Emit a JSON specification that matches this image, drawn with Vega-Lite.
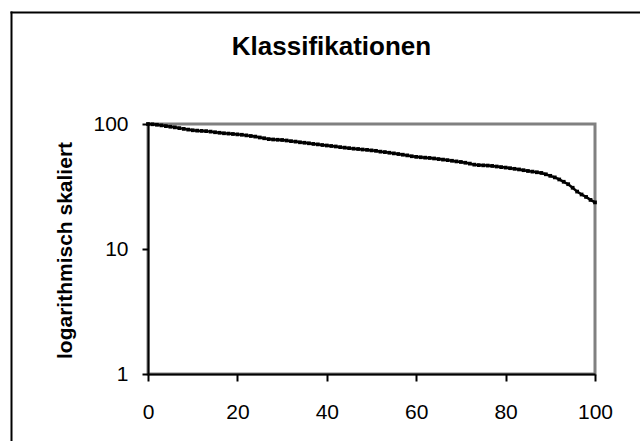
{
  "$schema": "https://vega.github.io/schema/vega-lite/v6.json",
  "autosize": "none",
  "width": 447,
  "height": 250,
  "padding": {"left": 148, "top": 124, "right": 45, "bottom": 67},
  "background": "white",
  "title": {
    "text": "Klassifikationen",
    "frame": "group",
    "anchor": "middle",
    "dx": -40,
    "offset": -78,
    "baseline": "bottom",
    "font": "Liberation Sans",
    "fontSize": 26,
    "fontWeight": "bold",
    "color": "black"
  },
  "data": {
    "values": [
      {"x": 0, "y": 100}, {"x": 1, "y": 99.5}, {"x": 2, "y": 98.6}, {"x": 3, "y": 97.5}, {"x": 4, "y": 96.2},
      {"x": 5, "y": 95.1}, {"x": 6, "y": 94.0}, {"x": 7, "y": 92.7}, {"x": 8, "y": 91.4}, {"x": 9, "y": 90.2},
      {"x": 10, "y": 89.1}, {"x": 11, "y": 88.5}, {"x": 12, "y": 88.1}, {"x": 13, "y": 87.7}, {"x": 14, "y": 86.9},
      {"x": 15, "y": 85.9}, {"x": 16, "y": 85.1}, {"x": 17, "y": 84.3}, {"x": 18, "y": 83.8}, {"x": 19, "y": 83.2},
      {"x": 20, "y": 82.6}, {"x": 21, "y": 82.0}, {"x": 22, "y": 81.1}, {"x": 23, "y": 80.2}, {"x": 24, "y": 79.3},
      {"x": 25, "y": 78.0}, {"x": 26, "y": 76.9}, {"x": 27, "y": 75.7}, {"x": 28, "y": 75.2}, {"x": 29, "y": 74.8},
      {"x": 30, "y": 74.5}, {"x": 31, "y": 73.8}, {"x": 32, "y": 72.9}, {"x": 33, "y": 72.3}, {"x": 34, "y": 71.4},
      {"x": 35, "y": 70.8}, {"x": 36, "y": 70.1}, {"x": 37, "y": 69.3}, {"x": 38, "y": 68.7}, {"x": 39, "y": 67.9},
      {"x": 40, "y": 67.3}, {"x": 41, "y": 66.7}, {"x": 42, "y": 66.1}, {"x": 43, "y": 65.3}, {"x": 44, "y": 64.7},
      {"x": 45, "y": 64.1}, {"x": 46, "y": 63.5}, {"x": 47, "y": 63.1}, {"x": 48, "y": 62.5}, {"x": 49, "y": 62.1},
      {"x": 50, "y": 61.5}, {"x": 51, "y": 61.0}, {"x": 52, "y": 60.1}, {"x": 53, "y": 59.6}, {"x": 54, "y": 58.9},
      {"x": 55, "y": 58.2}, {"x": 56, "y": 57.5}, {"x": 57, "y": 56.8}, {"x": 58, "y": 56.1}, {"x": 59, "y": 55.2},
      {"x": 60, "y": 54.6}, {"x": 61, "y": 54.2}, {"x": 62, "y": 53.8}, {"x": 63, "y": 53.5}, {"x": 64, "y": 53.0},
      {"x": 65, "y": 52.4}, {"x": 66, "y": 51.9}, {"x": 67, "y": 51.4}, {"x": 68, "y": 50.8}, {"x": 69, "y": 50.2},
      {"x": 70, "y": 49.7}, {"x": 71, "y": 49.0}, {"x": 72, "y": 48.2}, {"x": 73, "y": 47.3}, {"x": 74, "y": 46.9},
      {"x": 75, "y": 46.7}, {"x": 76, "y": 46.5}, {"x": 77, "y": 46.2}, {"x": 78, "y": 45.7}, {"x": 79, "y": 45.2},
      {"x": 80, "y": 44.8}, {"x": 81, "y": 44.3}, {"x": 82, "y": 43.8}, {"x": 83, "y": 43.3}, {"x": 84, "y": 42.7},
      {"x": 85, "y": 42.1}, {"x": 86, "y": 41.6}, {"x": 87, "y": 41.1}, {"x": 88, "y": 40.6}, {"x": 89, "y": 39.6},
      {"x": 90, "y": 38.5}, {"x": 91, "y": 37.4}, {"x": 92, "y": 36.0}, {"x": 93, "y": 34.5}, {"x": 94, "y": 33.0},
      {"x": 95, "y": 30.9}, {"x": 96, "y": 28.8}, {"x": 97, "y": 27.3}, {"x": 98, "y": 26.1}, {"x": 99, "y": 24.7},
      {"x": 100, "y": 23.6}
    ]
  },
  "layer": [
    {
      "mark": {"type": "line", "color": "black", "strokeWidth": 2.5, "clip": false},
      "encoding": {
        "x": {
          "field": "x", "type": "quantitative",
          "scale": {"domain": [0, 100], "nice": false, "zero": false},
          "axis": {
            "values": [0, 20, 40, 60, 80, 100],
            "title": null,
            "grid": false,
            "domainColor": "black", "domainWidth": 2,
            "tickColor": "black", "tickWidth": 2, "tickSize": 7,
            "labelFont": "Liberation Sans", "labelFontSize": 21, "labelColor": "black",
            "labelPadding": 20, "labelFlush": false, "labelOverlap": false
          }
        },
        "y": {
          "field": "y", "type": "quantitative",
          "scale": {"type": "log", "domain": [1, 100], "nice": false},
          "axis": {
            "values": [1, 10, 100],
            "format": "d",
            "title": "logarithmisch skaliert",
            "titleFont": "Liberation Sans", "titleFontSize": 21, "titleFontWeight": "bold", "titleColor": "black",
            "titleAngle": -90, "titleX": -83, "titleY": 126, "titleAlign": "center", "titleBaseline": "middle",
            "grid": false,
            "domainColor": "black", "domainWidth": 2,
            "tickColor": "black", "tickWidth": 2, "tickSize": 6,
            "labelFont": "Liberation Sans", "labelFontSize": 21, "labelColor": "black",
            "labelPadding": 14, "labelFlush": false, "labelOverlap": false
          }
        }
      }
    },
    {
      "mark": {"type": "point", "shape": "square", "filled": true, "color": "black", "size": 14, "opacity": 1, "clip": false},
      "encoding": {
        "x": {"field": "x", "type": "quantitative", "scale": {"domain": [0, 100], "nice": false, "zero": false}, "axis": null},
        "y": {"field": "y", "type": "quantitative", "scale": {"type": "log", "domain": [1, 100], "nice": false}, "axis": null}
      }
    },
    {
      "mark": {"type": "point", "opacity": 0},
      "encoding": {
        "x": {
          "field": "x", "type": "quantitative",
          "scale": {"domain": [0, 100], "range": [-138, 700], "nice": false, "zero": false},
          "axis": {"orient": "top", "offset": 112, "ticks": false, "labels": false, "title": null, "grid": false, "domainColor": "black", "domainWidth": 2}
        },
        "y": {
          "field": "y", "type": "quantitative",
          "scale": {"domain": [0, 100], "range": [500, -113], "nice": false, "zero": false},
          "axis": {"orient": "left", "offset": 137, "ticks": false, "labels": false, "title": null, "grid": false, "domainColor": "black", "domainWidth": 2}
        }
      }
    }
  ],
  "resolve": {"scale": {"x": "independent", "y": "independent"}, "axis": {"x": "independent", "y": "independent"}},
  "config": {
    "view": {"stroke": "#808080", "strokeWidth": 3},
    "axis": {"zindex": 1}
  }
}
